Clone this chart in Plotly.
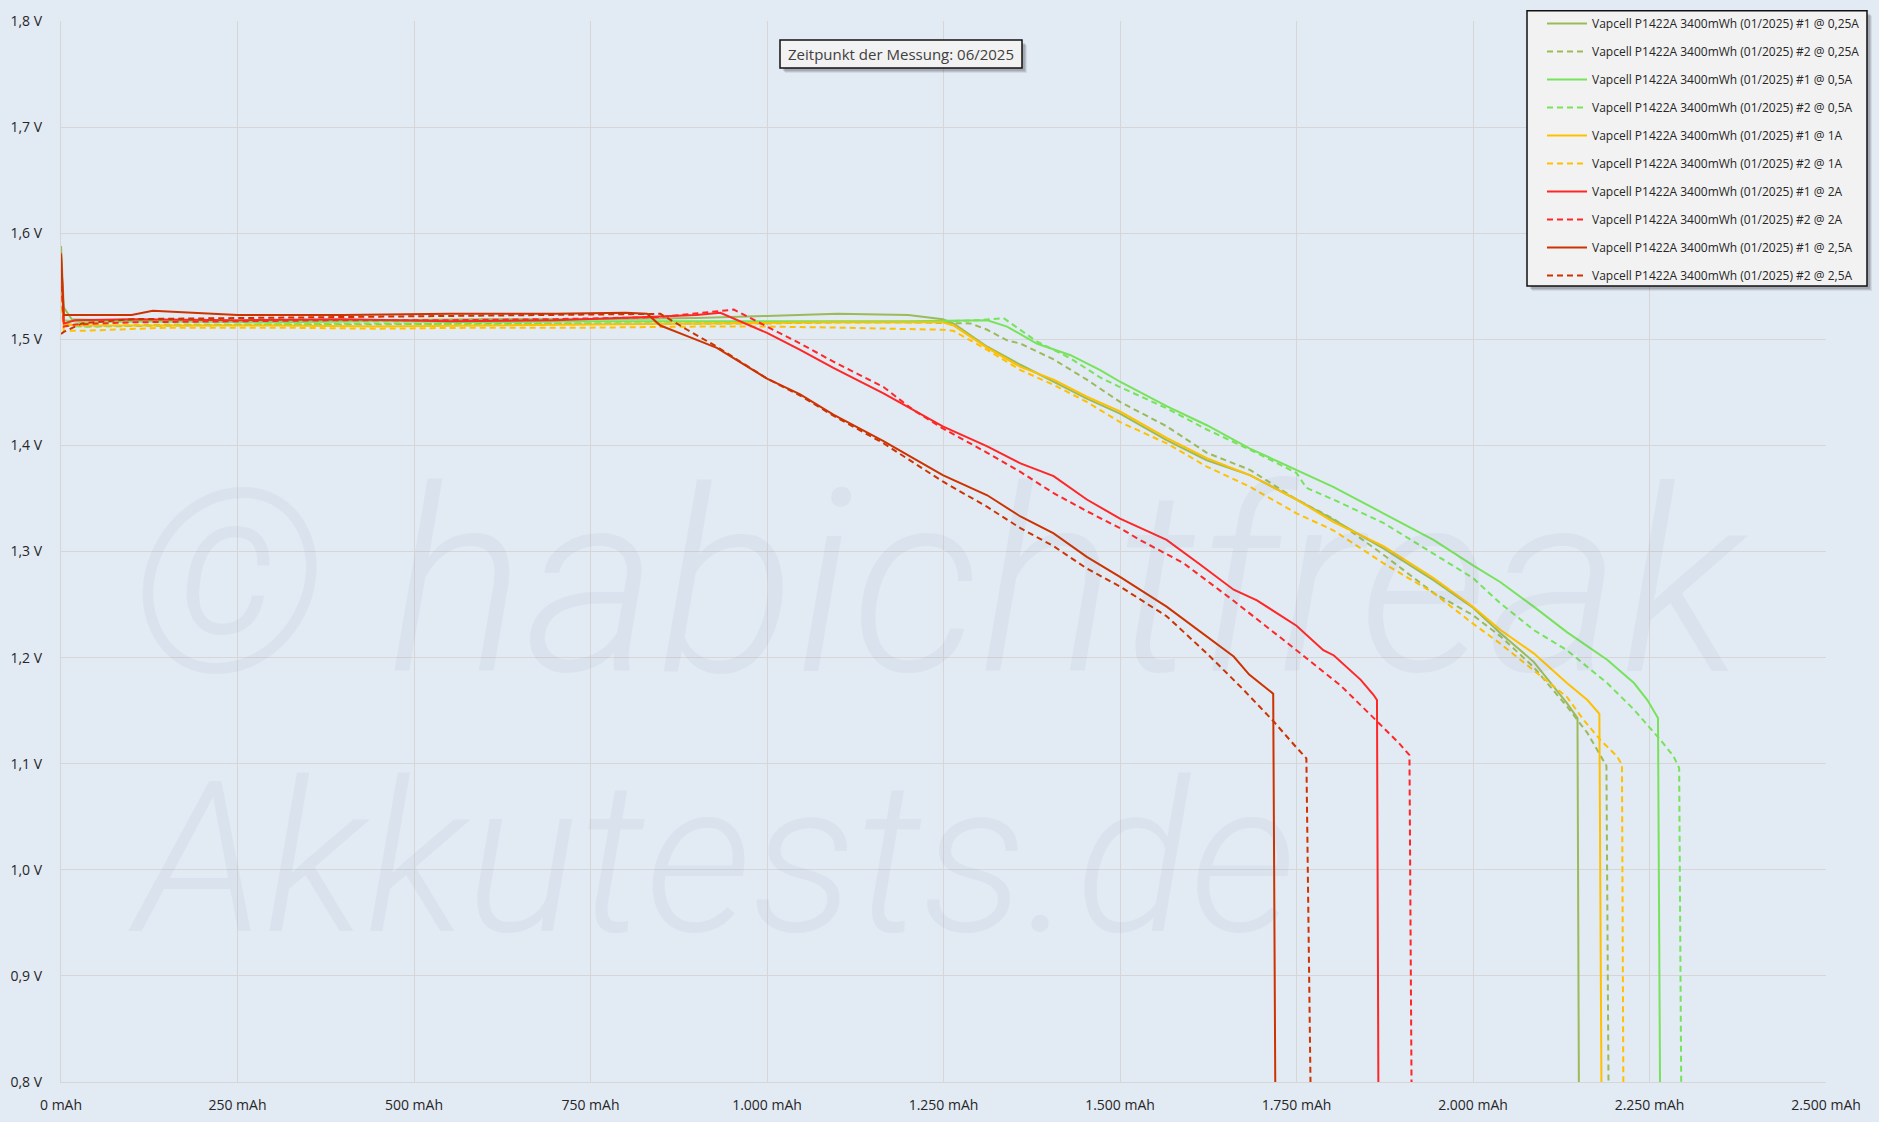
import plotly.graph_objects as go

# ---------------- data (capacity in mAh, voltage in V) ----------------
names = [
    "Vapcell P1422A 3400mWh (01/2025) #1 @ 0,25A",
    "Vapcell P1422A 3400mWh (01/2025) #2 @ 0,25A",
    "Vapcell P1422A 3400mWh (01/2025) #1 @ 0,5A",
    "Vapcell P1422A 3400mWh (01/2025) #2 @ 0,5A",
    "Vapcell P1422A 3400mWh (01/2025) #1 @ 1A",
    "Vapcell P1422A 3400mWh (01/2025) #2 @ 1A",
    "Vapcell P1422A 3400mWh (01/2025) #1 @ 2A",
    "Vapcell P1422A 3400mWh (01/2025) #2 @ 2A",
    "Vapcell P1422A 3400mWh (01/2025) #1 @ 2,5A",
    "Vapcell P1422A 3400mWh (01/2025) #2 @ 2,5A",
]
colors = ["#9bbb59", "#9bbb59", "#77e35a", "#77e35a", "#ffc000", "#ffc000",
          "#ff2626", "#ff2626", "#cc3300", "#cc3300"]
dashes = ["solid", "6px,4px"] * 5

mah_025_1 = [0, 4, 15, 60, 150, 300, 450, 600, 750, 900, 1000, 1100, 1200, 1249, 1264, 1312, 1359, 1406, 1453, 1500, 1566, 1623, 1684, 1750, 1802, 1873, 1944, 2000, 2039, 2086, 2133, 2148, 2150]
v_025_1 = [1.588, 1.530, 1.519, 1.518, 1.517, 1.517, 1.518, 1.519, 1.519, 1.520, 1.522, 1.524, 1.523, 1.519, 1.515, 1.493, 1.476, 1.460, 1.444, 1.430, 1.405, 1.386, 1.372, 1.349, 1.330, 1.303, 1.273, 1.247, 1.223, 1.196, 1.157, 1.143, 0.79]

mah_025_2 = [0, 4, 30, 150, 300, 450, 600, 750, 900, 1000, 1100, 1200, 1288, 1312, 1340, 1359, 1406, 1453, 1500, 1566, 1623, 1684, 1750, 1802, 1873, 1944, 2000, 2039, 2086, 2133, 2162, 2181, 2189, 2192]
v_025_2 = [1.560, 1.515, 1.512, 1.513, 1.514, 1.514, 1.515, 1.515, 1.515, 1.515, 1.516, 1.516, 1.515, 1.509, 1.499, 1.496, 1.481, 1.462, 1.441, 1.418, 1.393, 1.377, 1.349, 1.331, 1.297, 1.261, 1.240, 1.220, 1.191, 1.154, 1.129, 1.107, 1.098, 0.79]

mah_05_1 = [0, 4, 30, 150, 300, 450, 600, 750, 900, 1000, 1100, 1200, 1312, 1340, 1382, 1430, 1472, 1500, 1566, 1623, 1684, 1750, 1802, 1873, 1944, 2000, 2039, 2086, 2133, 2190, 2228, 2247, 2262, 2265]
v_05_1 = [1.575, 1.518, 1.516, 1.517, 1.516, 1.517, 1.516, 1.517, 1.517, 1.517, 1.517, 1.517, 1.518, 1.512, 1.496, 1.485, 1.471, 1.460, 1.437, 1.419, 1.397, 1.377, 1.361, 1.336, 1.311, 1.287, 1.271, 1.248, 1.224, 1.198, 1.176, 1.160, 1.143, 0.79]

mah_05_2 = [0, 4, 30, 150, 300, 450, 600, 750, 900, 1000, 1100, 1200, 1300, 1335, 1382, 1430, 1472, 1500, 1566, 1623, 1684, 1750, 1764, 1802, 1873, 1944, 2000, 2039, 2086, 2133, 2190, 2228, 2266, 2284, 2292, 2295]
v_05_2 = [1.560, 1.513, 1.512, 1.514, 1.514, 1.515, 1.514, 1.515, 1.515, 1.516, 1.516, 1.516, 1.518, 1.520, 1.498, 1.482, 1.464, 1.455, 1.435, 1.415, 1.396, 1.374, 1.360, 1.349, 1.327, 1.298, 1.275, 1.251, 1.226, 1.207, 1.176, 1.151, 1.122, 1.107, 1.096, 0.79]

mah_1_1 = [0, 4, 30, 150, 300, 450, 600, 750, 900, 1000, 1100, 1200, 1249, 1264, 1312, 1359, 1406, 1453, 1500, 1566, 1623, 1684, 1750, 1802, 1873, 1944, 2000, 2039, 2086, 2133, 2162, 2179, 2182]
v_1_1 = [1.570, 1.514, 1.513, 1.513, 1.513, 1.512, 1.513, 1.514, 1.515, 1.516, 1.516, 1.516, 1.516, 1.513, 1.492, 1.474, 1.462, 1.446, 1.432, 1.407, 1.388, 1.372, 1.349, 1.328, 1.305, 1.275, 1.248, 1.226, 1.204, 1.176, 1.160, 1.147, 0.79]

mah_1_2 = [0, 4, 30, 150, 300, 450, 600, 750, 900, 1000, 1100, 1200, 1249, 1264, 1312, 1359, 1406, 1453, 1500, 1566, 1623, 1684, 1750, 1802, 1873, 1944, 2000, 2039, 2086, 2133, 2157, 2181, 2204, 2211, 2213]
v_1_2 = [1.540, 1.508, 1.508, 1.511, 1.511, 1.510, 1.511, 1.511, 1.512, 1.512, 1.511, 1.510, 1.509, 1.508, 1.490, 1.471, 1.457, 1.441, 1.422, 1.402, 1.380, 1.361, 1.336, 1.320, 1.289, 1.261, 1.232, 1.213, 1.188, 1.163, 1.141, 1.122, 1.107, 1.099, 0.79]

mah_2_1 = [0, 4, 20, 100, 250, 400, 550, 700, 830, 900, 934, 1000, 1047, 1094, 1165, 1249, 1312, 1359, 1406, 1453, 1500, 1566, 1613, 1661, 1694, 1750, 1788, 1803, 1841, 1859, 1864, 1866]
v_2_1 = [1.581, 1.515, 1.518, 1.519, 1.518, 1.519, 1.517, 1.518, 1.521, 1.523, 1.525, 1.506, 1.490, 1.473, 1.449, 1.418, 1.399, 1.383, 1.371, 1.349, 1.331, 1.311, 1.288, 1.264, 1.254, 1.230, 1.207, 1.202, 1.179, 1.165, 1.160, 0.79]

mah_2_2 = [0, 4, 20, 100, 250, 400, 550, 700, 850, 953, 1000, 1047, 1094, 1165, 1208, 1249, 1312, 1359, 1406, 1453, 1500, 1528, 1590, 1660, 1750, 1812, 1864, 1897, 1910, 1913]
v_2_2 = [1.560, 1.512, 1.514, 1.516, 1.517, 1.518, 1.518, 1.519, 1.521, 1.528, 1.512, 1.496, 1.479, 1.455, 1.433, 1.416, 1.393, 1.375, 1.355, 1.338, 1.322, 1.311, 1.289, 1.254, 1.207, 1.174, 1.140, 1.118, 1.108, 0.79]

mah_25_1 = [0, 4, 20, 100, 130, 160, 250, 400, 550, 700, 800, 830, 849, 887, 929, 1000, 1047, 1094, 1165, 1249, 1312, 1359, 1406, 1453, 1500, 1566, 1623, 1661, 1683, 1708, 1717, 1720]
v_25_1 = [1.580, 1.523, 1.523, 1.523, 1.527, 1.526, 1.523, 1.523, 1.524, 1.524, 1.525, 1.524, 1.513, 1.503, 1.492, 1.463, 1.448, 1.429, 1.404, 1.372, 1.353, 1.333, 1.317, 1.295, 1.276, 1.248, 1.220, 1.201, 1.184, 1.171, 1.166, 0.79]

mah_25_2 = [0, 4, 30, 100, 250, 400, 550, 700, 849, 887, 929, 1000, 1047, 1094, 1165, 1249, 1312, 1359, 1406, 1453, 1500, 1566, 1623, 1673, 1716, 1749, 1764, 1770]
v_25_2 = [1.505, 1.507, 1.515, 1.519, 1.520, 1.521, 1.522, 1.523, 1.524, 1.509, 1.493, 1.463, 1.447, 1.428, 1.402, 1.366, 1.342, 1.322, 1.305, 1.284, 1.267, 1.239, 1.204, 1.171, 1.141, 1.116, 1.105, 0.79]

series_x = [mah_025_1, mah_025_2, mah_05_1, mah_05_2, mah_1_1, mah_1_2, mah_2_1, mah_2_2, mah_25_1, mah_25_2]
series_y = [v_025_1, v_025_2, v_05_1, v_05_2, v_1_1, v_1_2, v_2_1, v_2_2, v_25_1, v_25_2]

x_ticks = [0, 250, 500, 750, 1000, 1250, 1500, 1750, 2000, 2250, 2500]
y_ticks = [0.8, 0.9, 1.0, 1.1, 1.2, 1.3, 1.4, 1.5, 1.6, 1.7, 1.8]
x_ticktext = [f"{v:,d}".replace(",", ".") + " mAh" for v in x_ticks]
y_ticktext = [f"{v:.1f}".replace(".", ",") + " V" for v in y_ticks]

# ---------------- figure ----------------
W, H = 1879, 1122
ML, MR, MT, MB = 61, 53, 21, 40
PW, PH = W - ML - MR, H - MT - MB
BG = "#e2eaf4"
FONT = "Open Sans"


def px_x(px):
    return (px - ML) / PW


def px_y(py):
    return (H - MB - py) / PH


def box(x0, y0, x1, y1):
    """shadowed, black-bordered panel drawn as shapes (pixel coordinates)"""
    out = []
    for d, a in ((5, 0.07), (4, 0.10), (3, 0.12)):
        out.append(dict(type="rect", xref="paper", yref="paper",
                        x0=px_x(x0 + d), x1=px_x(x1 + d), y0=px_y(y0 + d), y1=px_y(y1 + d),
                        line=dict(width=0), fillcolor=f"rgba(0,0,0,{a})", layer="above"))
    out.append(dict(type="rect", xref="paper", yref="paper",
                    x0=px_x(x0), x1=px_x(x1), y0=px_y(y0), y1=px_y(y1),
                    line=dict(width=1.5, color="#111111"), fillcolor="#f2f2f2", layer="above"))
    return out


fig = go.Figure()
for i in range(len(names)):
    fig.add_trace(go.Scatter(
        x=series_x[i], y=series_y[i], name=names[i], mode="lines",
        legendgroup=f"g{i}",
        line=dict(color=colors[i], width=2, dash=dashes[i]),
        hoverinfo="skip",
    ))

# watermark
wm_color = "rgba(110,125,150,0.065)"
fig.add_annotation(xref="paper", yref="paper", x=px_x(126), y=px_y(583),
                   xanchor="left", yanchor="middle", showarrow=False,
                   text="© habichtfreak",
                   font=dict(family="Roboto", size=256, color=wm_color, style="italic", weight=300))
fig.add_annotation(xref="paper", yref="paper", x=px_x(126), y=px_y(858),
                   xanchor="left", yanchor="middle", showarrow=False,
                   text="Akkutests.de",
                   font=dict(family="Roboto", size=212, color=wm_color, style="italic", weight=300))

shapes = []
shapes += box(780, 40, 1022, 68)        # measurement-date panel
shapes += box(1527, 10.7, 1867, 286)    # legend panel
fig.update_layout(shapes=shapes)

fig.add_annotation(xref="paper", yref="paper", x=px_x(901), y=px_y(54),
                   xanchor="center", yanchor="middle", showarrow=False,
                   text="Zeitpunkt der Messung: 06/2025",
                   font=dict(family=FONT, size=15, color="#404040"))

fig.update_layout(
    width=W, height=H,
    margin=dict(l=ML, r=MR, t=MT, b=MB, autoexpand=False),
    paper_bgcolor=BG, plot_bgcolor=BG,
    font=dict(family=FONT, size=14, color="#262626"),
    showlegend=True,
    legend=dict(
        x=px_x(1542), y=px_y(9), xanchor="left", yanchor="top",
        bgcolor="rgba(0,0,0,0)", borderwidth=0,
        font=dict(family=FONT, size=12, color="#262626"),
        tracegroupgap=9, itemwidth=40,
    ),
    xaxis=dict(
        range=[0, 2500], tickvals=x_ticks, ticktext=x_ticktext,
        showgrid=True, gridcolor="#d6d6d6", gridwidth=1.3,
        showline=True, linecolor="#d6d6d6", linewidth=1.3,
        zeroline=False, ticks="", ticklabelstandoff=10,
        tickfont=dict(size=14, color="#262626"), fixedrange=True,
    ),
    yaxis=dict(
        range=[0.8, 1.8], tickvals=y_ticks, ticktext=y_ticktext,
        showgrid=True, gridcolor="#d6d6d6", gridwidth=1.3,
        showline=True, linecolor="#d6d6d6", linewidth=1.3,
        zeroline=False, ticks="", ticklabelstandoff=15,
        tickfont=dict(size=14, color="#262626"), fixedrange=True,
    ),
)

fig.write_html("out.html", config={"displayModeBar": False},
               post_script="document.body.style.margin='0';")
